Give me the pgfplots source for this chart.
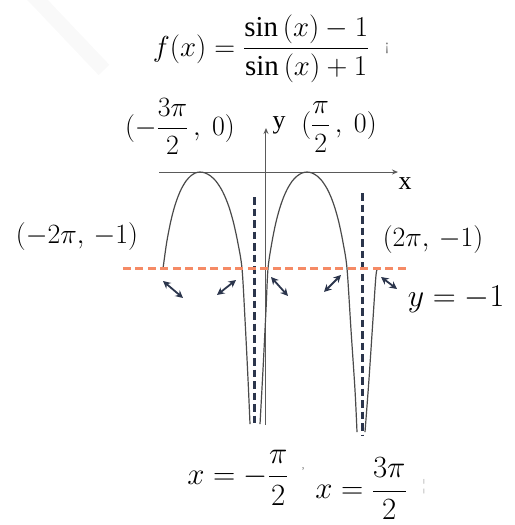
\RequirePackage{fix-cm}
\documentclass[border=0pt]{standalone}
\usepackage{amsmath}
\usepackage{fontspec}
\setmainfont{Liberation Serif}
\usepackage{pgfplots}
\pgfplotsset{compat=1.18}
\usetikzlibrary{arrows.meta}

\definecolor{curvegray}{HTML}{4A4A4A}
\definecolor{axisgray}{HTML}{5A5A5A}
\definecolor{dashorange}{HTML}{F58A65}
\definecolor{dashnavy}{HTML}{2B354C}

\begin{document}
\begin{tikzpicture}
\useasboundingbox (0,0) rectangle (515bp,525bp);

% faint watermark stroke, top left
\begin{scope}[x=1bp,y=-1bp,yshift=525bp]
  \draw[line width=15bp, color=gray!5] (30,-8) -- (104,70);
\end{scope}

\begin{axis}[
    at={(159bp,100bp)}, anchor=south west,
    scale only axis, width=239bp, height=297bp,
    xmin=-1.981, xmax=2.444, ymin=-2.62, ymax=0.456,
    axis lines=middle, clip=false,
    xtick=\empty, ytick=\empty,
    axis line style={draw=axisgray, line width=1bp},
    every inner x axis line/.append style={-{Stealth[length=6bp,width=5bp]}},
    every inner y axis line/.append style={-{Stealth[length=6bp,width=5bp]}},
    every axis plot/.append style={no markers},
]
% f(x) = (sin x - 1)/(sin x + 1), as sketched (x in units of pi)
\addplot[curvegray, line width=1.2bp, smooth] coordinates {
  (-1.907,-1.000) (-1.839,-0.730) (-1.770,-0.528) (-1.702,-0.376)
  (-1.633,-0.260) (-1.565,-0.172) (-1.479,-0.092) (-1.393,-0.040)
  (-1.308,-0.010) (-1.222,0) (-1.125,-0.010) (-1.028,-0.040)
  (-0.930,-0.092) (-0.833,-0.172) (-0.755,-0.260) (-0.677,-0.376)
  (-0.600,-0.528) (-0.522,-0.730) (-0.444,-1.000)
  (-0.389,-1.523) (-0.333,-2.145) (-0.296,-2.611)};
\addplot[curvegray, line width=1.2bp, smooth] coordinates {
  (-0.111,-2.611) (-0.056,-2.052) (0.000,-1.430) (0.037,-1.000)
  (0.109,-0.730) (0.181,-0.528) (0.254,-0.376) (0.326,-0.260)
  (0.398,-0.172) (0.488,-0.092) (0.579,-0.040) (0.669,-0.010)
  (0.759,0) (0.852,-0.010) (0.944,-0.040) (1.037,-0.092)
  (1.130,-0.172) (1.204,-0.260) (1.278,-0.376) (1.352,-0.528)
  (1.426,-0.730) (1.500,-1.000)
  (1.574,-1.637) (1.648,-2.259) (1.685,-2.694)};
\addplot[curvegray, line width=1.2bp, smooth] coordinates {
  (1.833,-2.694) (1.907,-2.145) (1.981,-1.523) (2.037,-1.067) (2.074,-0.995)};
% vertical asymptotes x = -pi/2 and x = 3pi/2
\addplot[dashnavy, line width=3bp, dash pattern=on 7.5bp off 4bp] coordinates {(-0.222,-0.26) (-0.222,-2.611)};
\addplot[dashnavy, line width=3bp, dash pattern=on 7.5bp off 4bp] coordinates {(1.778,-0.218) (1.778,-2.725)};
% horizontal asymptote y = -1
\addplot[dashorange, line width=3bp, dash pattern=on 8bp off 4.5bp] coordinates {(-2.648,-1) (2.611,-1)};
\end{axis}

\begin{scope}[x=1bp,y=-1bp,yshift=525bp]
  % small trend arrows
  \tikzset{trend/.style={dashnavy, line width=1.8bp,
      {Stealth[length=7.5bp,width=7.5bp]}-{Stealth[length=7.5bp,width=7.5bp]}}}
  \draw[trend] (163,281) -- (183,298);
  \draw[trend] (217,295) -- (236,280);
  \draw[trend] (271,277) -- (288,296);
  \draw[trend] (324,292) -- (341,275);
  \draw[trend] (381,277) -- (397,289);

  % labels
  \node[font=\fontsize{29}{34}\selectfont] at (261,49)
    {$f(x)=\dfrac{\sin\,(x)-1}{\sin\,(x)+1}$};
  \node[font=\fontsize{16}{18}\selectfont, text=gray] at (387,48) {¡};
  \node[font=\fontsize{28}{32}\selectfont] at (180,127) {$(-\dfrac{3\pi}{2}\,,\ 0)$};
  \node[font=\fontsize{28}{32}\selectfont] at (339,127) {$(\dfrac{\pi}{2}\,,\ 0)$};
  \node[font=\fontsize{26}{30}\selectfont] at (279,125) {y};
  \node[font=\fontsize{26}{30}\selectfont] at (405,184) {x};
  \node[font=\fontsize{28}{32}\selectfont] at (77,237) {$(-2\pi,\,-1)$};
  \node[font=\fontsize{28}{32}\selectfont] at (433,240) {$(2\pi,\,-1)$};
  \node[font=\fontsize{32}{36}\selectfont] at (456,299) {$y=-1$};
  \node[font=\fontsize{31}{36}\selectfont] at (238,478) {$x=-\dfrac{\pi}{2}$};
  \node[font=\fontsize{12}{14}\selectfont, text=gray] at (303,472) {'};
  \node[font=\fontsize{31}{36}\selectfont] at (361,489) {$x=\dfrac{3\pi}{2}$};
  \node[font=\fontsize{16}{18}\selectfont, text=gray!60] at (424,487) {¦};
\end{scope}
\end{tikzpicture}
\end{document}
